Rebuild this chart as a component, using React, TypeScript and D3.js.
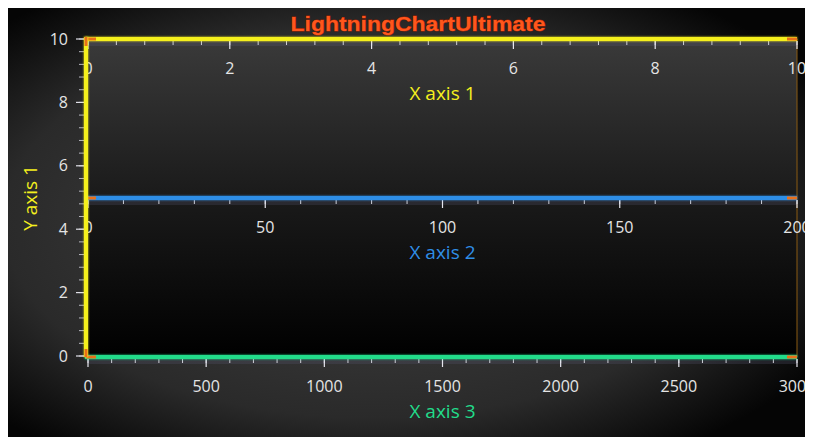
import React from "react";
import * as d3 from "d3";

// ---- data ----
const chartTitle = "LightningChartUltimate";
const xAxisTitles = ["X axis 1", "X axis 2", "X axis 3"];
const xAxisColors = ["#f5f01e", "#2f8ee6", "#22dc8a"];
const xAxisMins = [0, 0, 0];
const xAxisMaxs = [10, 200, 3000];
const xAxisMajorSteps = [2, 50, 500];
const xAxisPositions = [0, 0.5, 1]; // relative position in graph area (top → bottom)
const yAxisTitle = "Y axis 1";
const yAxisMin = 0;
const yAxisMax = 10;
const yAxisMajorStep = 2;
const minorDivisions = 5;

const W = 805;
const H = 429;
const plotLeft = 80;
const plotRight = 789;
const plotTop = 31;
const plotBottom = 349;

const font = "'Open Sans', 'Noto Sans', sans-serif";

function range(min: number, max: number, step: number) {
  const out: number[] = [];
  for (let v = min; v <= max + step * 1e-6; v += step) out.push(+v.toFixed(6));
  return out;
}

export default function App() {
  const posScale = d3.scaleLinear().domain([0, 1]).range([plotTop, plotBottom]);
  const yScale = d3.scaleLinear().domain([yAxisMin, yAxisMax]).range([plotBottom - 1, plotTop]);
  const yMajor = range(yAxisMin, yAxisMax, yAxisMajorStep);
  const yMinor = range(yAxisMin, yAxisMax, yAxisMajorStep / minorDivisions);
  const axisX = plotLeft - 2;

  return (
    <svg width={W} height={H} style={{ display: "block" }}>
      <defs>
        <radialGradient id="bg" cx="45%" cy="50%" r="65%">
          <stop offset="0%" stopColor="#454545" />
          <stop offset="70%" stopColor="#2a2a2a" />
          <stop offset="100%" stopColor="#050505" />
        </radialGradient>
        <linearGradient id="plotbg" x1="0" y1="0" x2="0" y2="1">
          <stop offset="0%" stopColor="#3a3a3a" />
          <stop offset="50%" stopColor="#1a1a1a" />
          <stop offset="100%" stopColor="#000000" />
        </linearGradient>
        <filter id="glow" filterUnits="userSpaceOnUse" x={0} y={0} width={W} height={H}>
          <feGaussianBlur stdDeviation="1.2" result="b" />
          <feMerge>
            <feMergeNode in="b" />
            <feMergeNode in="SourceGraphic" />
          </feMerge>
        </filter>
      </defs>
      <rect x={0} y={0} width={W} height={H} fill="url(#bg)" />
      <rect
        x={plotLeft}
        y={plotTop}
        width={plotRight - plotLeft}
        height={plotBottom - plotTop}
        fill="url(#plotbg)"
      />
      <line x1={plotRight} x2={plotRight} y1={plotTop} y2={plotBottom} stroke="#8a5a12" strokeWidth={1} />

      {/* title */}
      <text
        x={410}
        y={23}
        textAnchor="middle"
        fontFamily="'Liberation Sans', Arial, sans-serif"
        fontWeight="bold"
        fontSize={21}
        fill="#ff561c"
        stroke="#9a2000"
        strokeWidth={0.8}
        paintOrder="stroke"
        textLength={255}
        lengthAdjust="spacingAndGlyphs"
      >
        {chartTitle}
      </text>

      {/* X axes */}
      {xAxisTitles.map((title, i) => {
        const xs = d3.scaleLinear().domain([xAxisMins[i], xAxisMaxs[i]]).range([plotLeft, plotRight]);
        const y = posScale(xAxisPositions[i]);
        const major = range(xAxisMins[i], xAxisMaxs[i], xAxisMajorSteps[i]);
        const minor = range(xAxisMins[i], xAxisMaxs[i], xAxisMajorSteps[i] / minorDivisions);
        return (
          <g key={title}>
            <rect x={plotLeft} y={y + 2} width={plotRight - plotLeft} height={5} fill="#5c5c78" opacity={0.25} />
            {minor.map((v) => (
              <line key={"m" + v} x1={xs(v)} x2={xs(v)} y1={y + 2} y2={y + 6} stroke="#cfcfd8" strokeWidth={1} />
            ))}
            {major.map((v) => (
              <line key={"M" + v} x1={xs(v)} x2={xs(v)} y1={y + 2} y2={y + 10} stroke="#e6e6ee" strokeWidth={1.2} />
            ))}
            <line
              x1={xs(xAxisMins[i]) - 3}
              x2={xs(xAxisMaxs[i])}
              y1={y}
              y2={y}
              stroke={xAxisColors[i]}
              strokeWidth={4}
              filter="url(#glow)"
            />
            <line x1={xs(xAxisMins[i]) - 2} x2={xs(xAxisMins[i]) + 8} y1={y} y2={y} stroke="#e8701a" strokeWidth={3} />
            <line x1={xs(xAxisMaxs[i]) - 10} x2={xs(xAxisMaxs[i])} y1={y} y2={y} stroke="#e8701a" strokeWidth={3} />
            {major.map((v) => (
              <text
                key={"t" + v}
                x={xs(v)}
                y={y + 35}
                textAnchor="middle"
                fontFamily={font}
                fontSize={16}
                fill="#e4e4e4"
              >
                {v}
              </text>
            ))}
            <text
              x={(plotLeft + plotRight) / 2}
              y={y + 61}
              textAnchor="middle"
              fontFamily={font}
              fontSize={19}
              fill={xAxisColors[i]}
            >
              {title}
            </text>
          </g>
        );
      })}

      {/* Y axis */}
      <g>
        {yMinor.map((v) => (
          <line key={"m" + v} x1={axisX - 7} x2={axisX - 2} y1={yScale(v)} y2={yScale(v)} stroke="#b8b8c0" strokeWidth={1} />
        ))}
        {yMajor.map((v) => (
          <line key={"M" + v} x1={axisX - 10} x2={axisX - 2} y1={yScale(v)} y2={yScale(v)} stroke="#e0e0e8" strokeWidth={1.2} />
        ))}
        <line x1={axisX} x2={axisX} y1={plotTop - 2} y2={plotBottom} stroke="#f5f01e" strokeWidth={4} filter="url(#glow)" />
        <line x1={axisX} x2={axisX} y1={plotTop - 2} y2={plotTop + 7} stroke="#e8701a" strokeWidth={3} />
        <line x1={axisX} x2={axisX} y1={plotBottom - 8} y2={plotBottom} stroke="#e8701a" strokeWidth={3} />
        {yMajor.map((v) => (
          <text
            key={"t" + v}
            x={axisX - 18}
            y={yScale(v)}
            dy="0.35em"
            textAnchor="end"
            fontFamily={font}
            fontSize={16}
            fill="#e4e4e4"
          >
            {v}
          </text>
        ))}
        <text
          transform={`translate(29, ${(plotTop + plotBottom) / 2}) rotate(-90)`}
          textAnchor="middle"
          fontFamily={font}
          fontSize={19}
          fill="#f5f01e"
        >
          {yAxisTitle}
        </text>
      </g>
    </svg>
  );
}
